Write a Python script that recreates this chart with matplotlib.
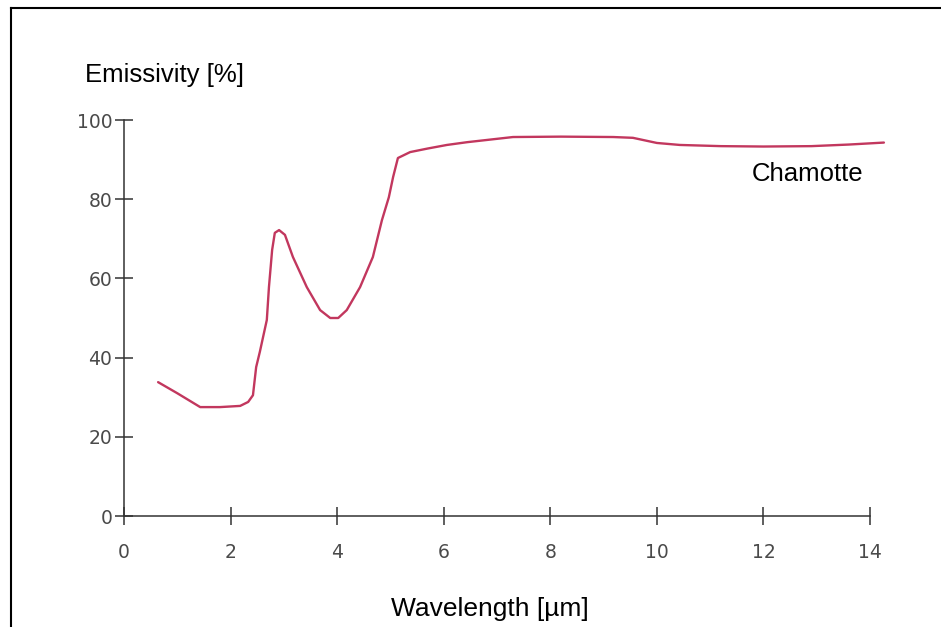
import matplotlib
matplotlib.use("Agg")
import matplotlib.pyplot as plt
from matplotlib.lines import Line2D

# values (wavelength in µm, emissivity in %)
wavelength = [0.64, 1.0, 1.43, 1.8, 2.18, 2.33, 2.42, 2.48, 2.55, 2.61, 2.68,
              2.72, 2.78, 2.83, 2.91, 3.02, 3.17, 3.43, 3.68, 3.87, 4.02,
              4.18, 4.43, 4.67, 4.84, 4.97, 5.05, 5.14, 5.37, 5.70, 6.06,
              6.44, 7.30, 8.20, 9.18, 9.55, 10.0, 10.43, 11.2, 12.0, 12.9,
              13.6, 14.26]
emissivity = [33.8, 31.0, 27.5, 27.5, 27.8, 28.8, 30.5, 37.6, 41.5, 45.2, 49.5,
              57.8, 67.2, 71.5, 72.2, 71.0, 65.4, 57.8, 52.0, 50.0, 50.0,
              52.0, 57.8, 65.4, 74.7, 80.5, 85.6, 90.4, 91.9, 92.8, 93.7,
              94.4, 95.7, 95.8, 95.7, 95.5, 94.2, 93.7, 93.4, 93.3, 93.4,
              93.8, 94.3]
x_ticks = [0, 2, 4, 6, 8, 10, 12, 14]
y_ticks = [0, 20, 40, 60, 80, 100]

W, H = 941, 627
fig = plt.figure(figsize=(W / 100, H / 100), dpi=100)
ax = fig.add_axes([124 / W, 111 / H, 772.7 / W, 396 / H])

ax.plot(wavelength, emissivity, color="#c2375e", lw=1.7,
        solid_joinstyle="round", solid_capstyle="round")

ax.set_xlim(0, 14.5)
ax.set_ylim(0, 100)
ax.set_xticks(x_ticks)
ax.set_yticks(y_ticks)

for s in ["top", "right"]:
    ax.spines[s].set_visible(False)
ax.spines["bottom"].set_bounds(0, 14)
ax.spines["left"].set_bounds(0, 100)
for s in ["bottom", "left"]:
    ax.spines[s].set_color("#333333")
    ax.spines[s].set_linewidth(1.1)

ax.tick_params(axis="both", direction="inout", length=13, width=1.1,
               color="#333333", labelcolor="#4a4a4a", labelsize=13.5)
ax.tick_params(axis="x", pad=13)
ax.tick_params(axis="y", pad=2)
for lab in ax.get_xticklabels() + ax.get_yticklabels():
    lab.set_fontfamily("DejaVu Sans")

fs = 18.5
fig.text(85 / W, 1 - 82 / H, "Emissivity [%]", fontsize=fs,
         family="Liberation Sans", va="baseline", ha="left")
fig.text(490 / W, 1 - 616 / H, "Wavelength [µm]", fontsize=19,
         family="Liberation Sans", va="baseline", ha="center")
fig.text(752 / W, 1 - 181 / H, "Chamotte", fontsize=fs,
         family="Liberation Sans", va="baseline", ha="left")

# frame around the picture (left and top edges only)
fig.add_artist(Line2D([10.5 / W, 10.5 / W], [0, 1 - 7.5 / H],
                      transform=fig.transFigure, color="black", lw=1.5))
fig.add_artist(Line2D([10.5 / W, 1], [1 - 7.5 / H, 1 - 7.5 / H],
                      transform=fig.transFigure, color="black", lw=1.5))

fig.savefig("out.png", dpi=100)
